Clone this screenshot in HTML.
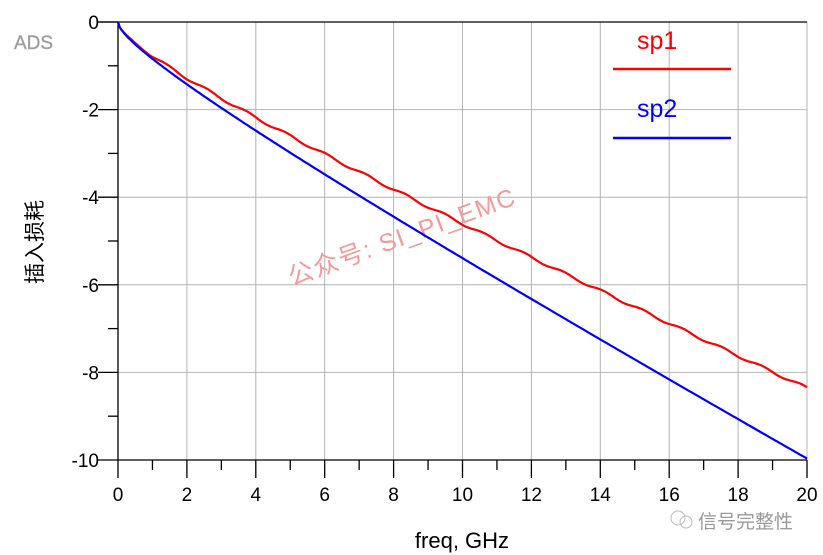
<!DOCTYPE html>
<html><head><meta charset="utf-8"><style>
body{margin:0;background:#fff;}
svg{display:block;font-family:"Liberation Sans","Noto Sans CJK SC",sans-serif;}
</style></head><body>
<svg id="s" width="823" height="555" viewBox="0 0 823 555">
<text x="14" y="49" font-size="19" fill="#999" stroke="#aaa" stroke-width="0.4">ADS</text>
<g id="grid" stroke="#b4b4b4" stroke-width="1"></g>
<g id="ax" stroke="#000" stroke-width="1.3"></g>
<g id="lab" font-size="19" fill="#000"></g>
<text x="462" y="548" font-size="22" text-anchor="middle">freq, GHz</text>
<text transform="translate(42,242) rotate(-90)" font-size="21" text-anchor="middle">插入损耗</text>
<text transform="translate(292,286) rotate(-20)" font-size="25" fill="#f59a9a" letter-spacing="1.5">公众号: SI_PI_EMC</text>
<polyline id="red" fill="none" stroke="#f00" stroke-width="2.2"/>
<polyline id="blue" fill="none" stroke="#00f" stroke-width="2.2"/>
<text x="637" y="49" font-size="25" fill="#f00">sp1</text>
<line x1="613" y1="69" x2="731" y2="69" stroke="#f00" stroke-width="2.5"/>
<text x="637" y="117" font-size="25" fill="#00f">sp2</text>
<line x1="613" y1="138" x2="731" y2="138" stroke="#00f" stroke-width="2.5"/>
<text x="698" y="528" font-size="19" fill="#999">信号完整性</text>
<circle cx="678" cy="518" r="7" fill="none" stroke="#bbb"/>
<circle cx="686" cy="522" r="6" fill="none" stroke="#bbb"/>
</svg>
<script>
var L=118,R=807,T=22,B=460,ns="http://www.w3.org/2000/svg";
function X(f){return L+(R-L)*f/20}function Y(v){return T+(B-T)*(-v)/10}
function el(p,t,a,txt){var e=document.createElementNS(ns,t);for(var k in a)e.setAttribute(k,a[k]);if(txt!=null)e.textContent=txt;document.getElementById(p).appendChild(e);}
for(var i=2;i<=20;i+=2)el("grid","line",{x1:X(i),y1:T,x2:X(i),y2:B});
for(var j=-2;j>=-10;j-=2)el("grid","line",{x1:L,y1:Y(j),x2:R,y2:Y(j)});
el("ax","line",{x1:L,y1:T,x2:L,y2:B});el("ax","line",{x1:L-20,y1:T,x2:R,y2:T});
el("ax","line",{x1:L,y1:B,x2:R,y2:B});
for(var i=0;i<=20;i++){var maj=i%2==0;el("ax","line",{x1:X(i),y1:B,x2:X(i),y2:B+(maj?18:10)});
 if(maj)el("lab","text",{x:X(i),y:B+41,"text-anchor":"middle"},""+i);}
for(var j=0;j>=-10;j--){var maj=j%2==0;el("ax","line",{x1:L-(maj?20:10),y1:Y(j),x2:L,y2:Y(j)});
 if(maj)el("lab","text",{x:L-19,y:Y(j)+7,"text-anchor":"end"},j==0?"0":"-"+(-j));}
var r=[],b=[];
for(var f=0;f<=20.001;f+=0.05){
 var bv=-(0.44*Math.sqrt(f)+0.4*f);
 var rv=-(0.46*Math.sqrt(f)+0.315*f)+0.03*Math.sin(f*2*Math.PI/1.15)*Math.min(1,f);
 r.push(X(f).toFixed(1)+","+Y(rv).toFixed(1));b.push(X(f).toFixed(1)+","+Y(bv).toFixed(1));}
document.getElementById("red").setAttribute("points",r.join(" "));
document.getElementById("blue").setAttribute("points",b.join(" "));
</script>
</body></html>
